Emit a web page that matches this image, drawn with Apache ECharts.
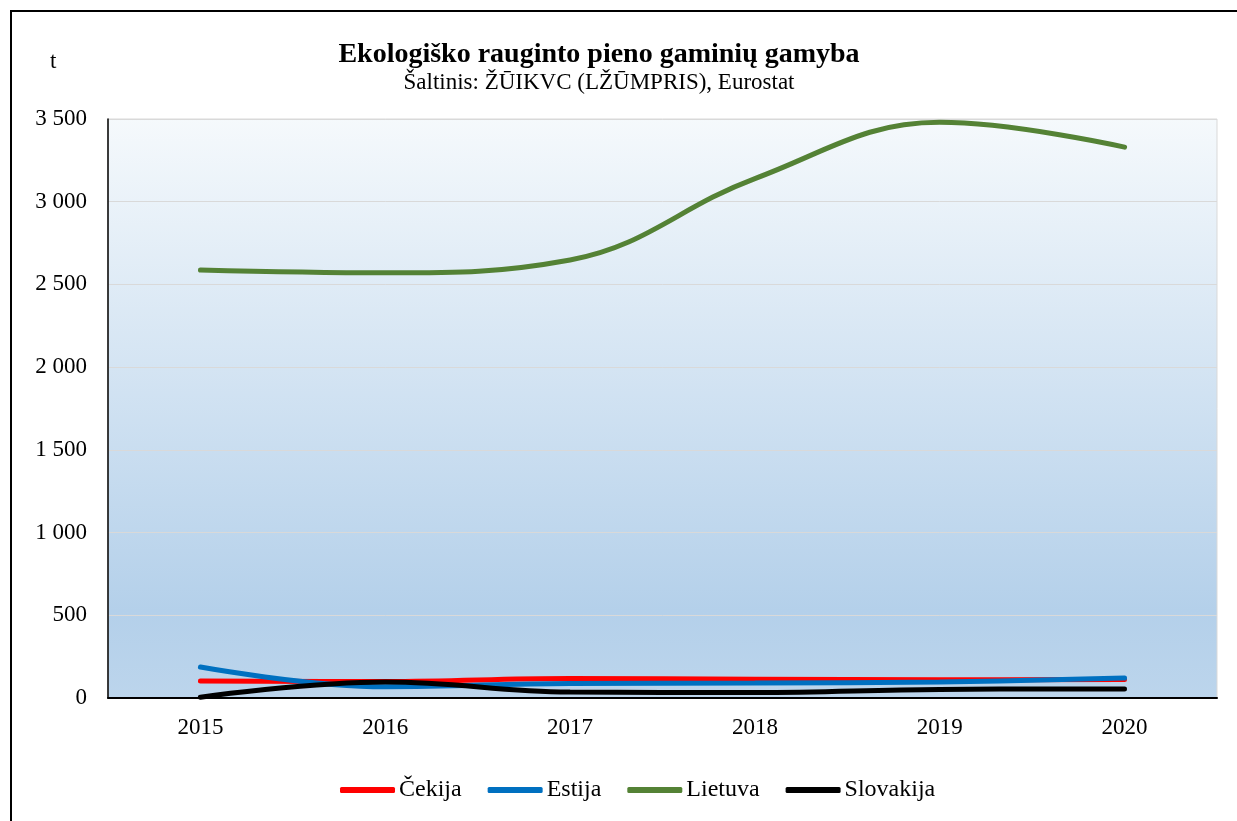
<!DOCTYPE html>
<html>
<head>
<meta charset="utf-8">
<script src="https://cdn.jsdelivr.net/npm/echarts@6/dist/echarts.min.js"></script>
<style>
  html, body { margin: 0; padding: 0; background: #fff; }
  #chart { width: 1237px; height: 821px; }
</style>
</head>
<body>
<div id="chart"></div>
<script>
// metai
const years = ['2015', '2016', '2017', '2018', '2019', '2020'];

// gamyba, t
const cekija = [103, 100, 118, 114, 110, 112];
const estija = [187, 68, 88, 90, 97, 121];
const lietuva = [2587, 2570, 2648, 3140, 3480, 3330];
const slovakija = [5, 97, 36, 33, 52, 55];

const seriesNames = ['Čekija', 'Estija', 'Lietuva', 'Slovakija'];
const seriesColors = ['#ff0000', '#0070c0', '#548235', '#000000'];
const seriesData = [cekija, estija, lietuva, slovakija];

const font = '"Liberation Serif", "Times New Roman", serif';

const myChart = echarts.init(document.getElementById('chart'));

const option = {
    animation: false,
    backgroundColor: '#fff',
    title: {
        text: 'Ekologiško rauginto pieno gaminių gamyba',
        subtext: 'Šaltinis: ŽŪIKVC (LŽŪMPRIS), Eurostat',
        left: 594,
        top: 36,
        textAlign: 'center',
        itemGap: 2,
        textStyle: { fontFamily: font, fontSize: 28, fontWeight: 'bold', color: '#000' },
        subtextStyle: { fontFamily: font, fontSize: 23, color: '#000' }
    },
    graphic: [
        {
            type: 'polyline',
            shape: { points: [[11, 830], [11, 11], [1240, 11]] },
            style: { stroke: '#000', lineWidth: 2, fill: null }
        },
        {
            type: 'text',
            left: 50,
            top: 50,
            style: { text: 't', font: '23px ' + font, fill: '#000' }
        }
    ],
    legend: {
        data: seriesNames,
        bottom: 14,
        left: 335,
        icon: 'roundRect',
        itemWidth: 55,
        itemHeight: 6,
        itemGap: 26,
        textStyle: { fontFamily: font, fontSize: 24, color: '#000', padding: [0, 0, 0, -1] }
    },
    grid: {
        left: 108,
        right: 20,
        top: 119,
        bottom: 123,
        show: true,
        borderColor: '#d9d9d9',
        borderWidth: 1,
        backgroundColor: new echarts.graphic.LinearGradient(0, 0, 0, 1, [
            { offset: 0, color: '#f5f9fc' },
            { offset: 0.85, color: '#b4d0ea' },
            { offset: 1, color: '#bcd5ec' }
        ])
    },
    xAxis: {
        type: 'category',
        data: years,
        boundaryGap: true,
        axisLine: { show: true, lineStyle: { color: '#000', width: 2 } },
        axisTick: { show: false },
        axisLabel: { fontFamily: font, fontSize: 23, color: '#000', margin: 18 }
    },
    yAxis: {
        type: 'value',
        min: 0,
        max: 3500,
        interval: 500,
        axisLine: { show: true, lineStyle: { color: '#000', width: 1.5 } },
        axisTick: { show: false },
        splitLine: { lineStyle: { color: '#d9d9d9', width: 1 } },
        axisLabel: {
            fontFamily: font,
            fontSize: 23,
            color: '#000',
            margin: 21,
            formatter: v => String(v).replace(/\B(?=(\d{3})+(?!\d))/g, ' ')
        }
    },
    series: seriesNames.map((name, i) => ({
        name: name,
        type: 'line',
        data: seriesData[i],
        smooth: 0.4,
        symbol: 'none',
        color: seriesColors[i],
        lineStyle: { width: 5, cap: 'round' }
    }))
};

myChart.setOption(option);
</script>
</body>
</html>
